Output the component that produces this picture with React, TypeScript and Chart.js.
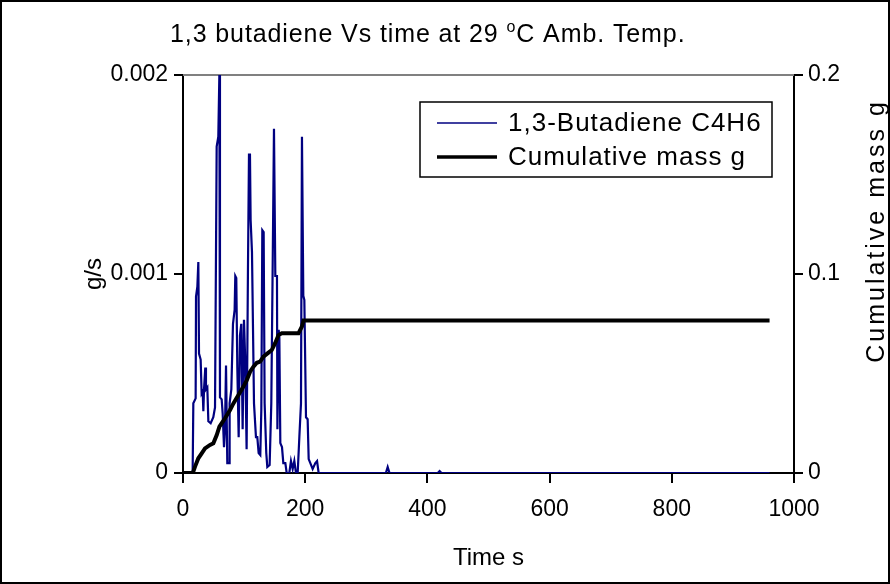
import React, { useEffect, useRef } from "react";
import { Chart, registerables } from "chart.js";

Chart.register(...registerables);

const chartTitle = "1,3 butadiene Vs time at 29 ";
const chartTitleSup = "o";
const chartTitleEnd = "C Amb. Temp.";
const xTitle = "Time s";
const yTitle = "g/s";
const y2Title = "Cumulative mass g";
const seriesNames = ["1,3-Butadiene C4H6", "Cumulative mass g"];

const xTicks = [0, 200, 400, 600, 800, 1000];
const yTicks = [0, 0.001, 0.002];
const y2Ticks = [0, 0.1, 0.2];

// 1,3-Butadiene emission rate (g/s) vs time (s)
const rateTimes = [
  0, 15.8, 16.9, 20.7, 21.3, 23.5, 25.1, 26.2, 28.9, 30.5, 32.2, 33.3, 34.4, 36.5, 37.6, 39.8,
  41.5, 45.3, 49.6, 52.4, 54, 55.1, 57.8, 59.5, 60.5, 63.3, 64.9, 67.1, 68.7, 70.4, 72.5, 75.8,
  76.3, 79.1, 81.8, 84.5, 85.6, 87.2, 88.9, 91.1, 93.2, 95.4, 97.6, 99.8, 102, 104.1, 106.3, 108,
  109.6, 110.7, 112.9, 116.2, 119.4, 121.6, 123.8, 126.5, 128.2, 129.8, 132, 133.6, 136.3, 138,
  141.8, 144.5, 146.7, 148.9, 151.1, 153.8, 154.5, 156.6, 157.7, 159.3, 162, 164.2, 167.5, 169.7,
  174, 176.7, 179.5, 182.2, 184.9, 187.7, 190.4, 193.1, 194.7, 196.9, 198.6, 201.3, 204, 205.7,
  208.4, 212.2, 216.6, 219.4, 222, 332, 335, 338, 417, 420, 423, 960,
];
const rateValues = [
  0, 0, 0.00035, 0.000375, 0.000886, 0.000936, 0.00106, 0.0006, 0.00057, 0.0004, 0.00041, 0.00031,
  0.00042, 0.00053, 0.00042, 0.00043, 0.00026, 0.00025, 0.00028, 0.00033, 0.00033, 0.00164,
  0.00169, 0.002, 0.00038, 0.00037, 0.0003, 0.00013, 0.00022, 0.00054, 0.00005, 0.00005, 0.00035,
  0.00042, 0.00075, 0.00082, 0.00099, 0.00098, 0.00053, 0.00018, 0.00069, 0.00075, 0.00022,
  0.00077, 0.00055, 0.00012, 0.00102, 0.0016, 0.0016, 0.00127, 0.00111, 0.00035, 0.00018,
  0.00018, 0.0001, 0.00009, 0.00032, 0.00122, 0.00121, 0.00035, 0.0001, 0.00003, 0.00004,
  0.00035, 0.00102, 0.00173, 0.00099, 0.00099, 0.00022, 0.00072, 0.00068, 0.00015, 0.00013,
  0.00005, 0.00005, 0, 0, 0.00006, 0.00002, 0.00006, 0, 0, 0.00018, 0.00035, 0.00169, 0.00089,
  0.00087, 0.00028, 0.00027, 0.00007, 0.00005, 0.00002, 0.00005, 0.00006, 0, 0, 0.00003, 0, 0,
  0.00001, 0, 0,
];

// Cumulative mass (g) vs time (s)
const cumTimes = [
  0, 15.8, 16.9, 19.7, 25.1, 30.6, 36, 44.3, 49.7, 55.2, 59.6, 63.4, 68.8, 77, 82.5, 90.7, 98.9,
  104.4, 109.8, 115.3, 120.8, 126.2, 131.7, 139.9, 145.3, 150.8, 156.3, 161.7, 189, 194.5, 197.3,
  960,
];
const cumValues = [
  0, 0, 0.0007, 0.0032, 0.0074, 0.0099, 0.0124, 0.0141, 0.0149, 0.0191, 0.0233, 0.025, 0.0275,
  0.0317, 0.035, 0.0392, 0.0434, 0.0467, 0.0509, 0.0534, 0.0554, 0.056, 0.0585, 0.0605, 0.0618,
  0.0652, 0.0693, 0.0702, 0.0702, 0.0735, 0.0766, 0.0766,
];

const FONT = "'Liberation Sans', Arial, sans-serif";
const FS = 23;

const fmt = (v: number) => {
  if (Math.abs(v) < 1e-12) return "0";
  return String(Number(v.toFixed(4)));
};

const decorPlugin = {
  id: "decor",
  beforeDatasetsDraw(chart: any) {
    const { ctx, chartArea } = chart;
    ctx.save();
    ctx.strokeStyle = "#808080";
    ctx.lineWidth = 2;
    ctx.beginPath();
    ctx.moveTo(chartArea.left, chartArea.top);
    ctx.lineTo(chartArea.right, chartArea.top);
    ctx.stroke();
    ctx.restore();
  },
  afterDraw(chart: any) {
    const { ctx, chartArea } = chart;
    ctx.save();
    ctx.fillStyle = "#000";
    // Title with superscript
    const TFS = 25;
    const mainFont = `${TFS}px ${FONT}`;
    const supFont = `${Math.round(TFS * 0.62)}px ${FONT}`;
    ctx.letterSpacing = "0.9px";
    ctx.textBaseline = "alphabetic";
    ctx.textAlign = "left";
    let x = 170;
    const by = 42;
    ctx.font = mainFont;
    ctx.fillText(chartTitle, x, by);
    x += ctx.measureText(chartTitle).width;
    ctx.font = supFont;
    ctx.fillText(chartTitleSup, x, by - 10);
    x += ctx.measureText(chartTitleSup).width;
    ctx.font = mainFont;
    ctx.fillText(chartTitleEnd, x, by);
    ctx.letterSpacing = "0px";

    // Axis titles
    ctx.font = `24px ${FONT}`;
    ctx.textAlign = "center";
    ctx.textBaseline = "middle";
    ctx.fillText(xTitle, (chartArea.left + chartArea.right) / 2, 558);
    ctx.save();
    ctx.translate(94, (chartArea.top + chartArea.bottom) / 2);
    ctx.rotate(-Math.PI / 2);
    ctx.fillText(yTitle, 0, 0);
    ctx.restore();
    ctx.save();
    ctx.font = `25px ${FONT}`;
    ctx.letterSpacing = "3px";
    ctx.translate(877, 231);
    ctx.rotate(-Math.PI / 2);
    ctx.fillText(y2Title, 0, 0);
    ctx.restore();

    // Legend
    const lx = 420, ly = 102, lw = 352, lh = 75;
    ctx.fillStyle = "#fff";
    ctx.fillRect(lx, ly, lw, lh);
    ctx.strokeStyle = "#000";
    ctx.lineWidth = 1.5;
    ctx.strokeRect(lx, ly, lw, lh);
    const rows = [
      { y: 123, color: "#000080", width: 1.5 },
      { y: 157, color: "#000", width: 3.5 },
    ];
    rows.forEach((r, i) => {
      ctx.strokeStyle = r.color;
      ctx.lineWidth = r.width;
      ctx.beginPath();
      ctx.moveTo(437, r.y);
      ctx.lineTo(497, r.y);
      ctx.stroke();
      ctx.fillStyle = "#000";
      ctx.textAlign = "left";
      ctx.textBaseline = "middle";
      ctx.font = `26px ${FONT}`;
      ctx.letterSpacing = "1px";
      ctx.fillText(seriesNames[i], 508, r.y + 1);
      ctx.letterSpacing = "0px";
    });

    // Outer border
    ctx.strokeStyle = "#000";
    ctx.lineWidth = 2;
    ctx.strokeRect(1, 1, chart.width - 2, chart.height - 2);
    ctx.restore();
  },
};

export default function App() {
  const ref = useRef<HTMLCanvasElement | null>(null);
  useEffect(() => {
    document.body.style.margin = "0";
    const canvas = ref.current!;
    const rateData = rateTimes.map((t, i) => ({ x: t, y: rateValues[i] }));
    const cumData = cumTimes.map((t, i) => ({ x: t, y: cumValues[i] }));
    const tickFont = { family: FONT, size: FS };
    const chart = new Chart(canvas, {
      type: "line",
      data: {
        datasets: [
          {
            label: seriesNames[0],
            data: rateData,
            yAxisID: "y",
            borderColor: "#000080",
            borderWidth: 2.2,
            pointRadius: 0,
            tension: 0,
            order: 2,
          },
          {
            label: seriesNames[1],
            data: cumData,
            yAxisID: "y2",
            borderColor: "#000",
            borderWidth: 4,
            pointRadius: 0,
            tension: 0,
            order: 1,
          },
        ],
      },
      options: {
        responsive: false,
        animation: false,
        events: [],
        layout: { padding: { top: 75, left: 0, right: 0, bottom: 0 } },
        plugins: { legend: { display: false }, title: { display: false }, tooltip: { enabled: false } },
        scales: {
          x: {
            type: "linear",
            min: 0,
            max: 1000,
            afterBuildTicks: (s: any) => {
              s.ticks = xTicks.map((v) => ({ value: v }));
            },
            afterFit: (s: any) => {
              s.height = 111;
            },
            ticks: { font: tickFont, color: "#000", padding: 13, maxRotation: 0, callback: (v: any) => fmt(Number(v)) },
            grid: { drawOnChartArea: false, drawTicks: true, tickLength: 10, color: "#000", lineWidth: 2 },
            border: { color: "#000", width: 2 },
          },
          y: {
            type: "linear",
            position: "left",
            min: 0,
            max: 0.002,
            afterBuildTicks: (s: any) => {
              s.ticks = yTicks.map((v) => ({ value: v }));
            },
            afterFit: (s: any) => {
              s.width = 183;
            },
            ticks: { font: tickFont, color: "#000", padding: 6, callback: (v: any) => fmt(Number(v)) },
            grid: { drawOnChartArea: false, drawTicks: true, tickLength: 9, color: "#000", lineWidth: 2 },
            border: { color: "#000", width: 2 },
          },
          y2: {
            type: "linear",
            position: "right",
            min: 0,
            max: 0.2,
            afterBuildTicks: (s: any) => {
              s.ticks = y2Ticks.map((v) => ({ value: v }));
            },
            afterFit: (s: any) => {
              s.width = 96;
            },
            ticks: { font: tickFont, color: "#000", padding: 5, callback: (v: any) => fmt(Number(v)) },
            grid: { drawOnChartArea: false, drawTicks: true, tickLength: 9, color: "#000", lineWidth: 2 },
            border: { color: "#000", width: 2 },
          },
        },
      },
      plugins: [decorPlugin],
    } as any);
    return () => chart.destroy();
  }, []);
  return (
    <div style={{ width: 890, height: 584, background: "#fff" }}>
      <canvas ref={ref} width={890} height={584} style={{ display: "block" }} />
    </div>
  );
}
